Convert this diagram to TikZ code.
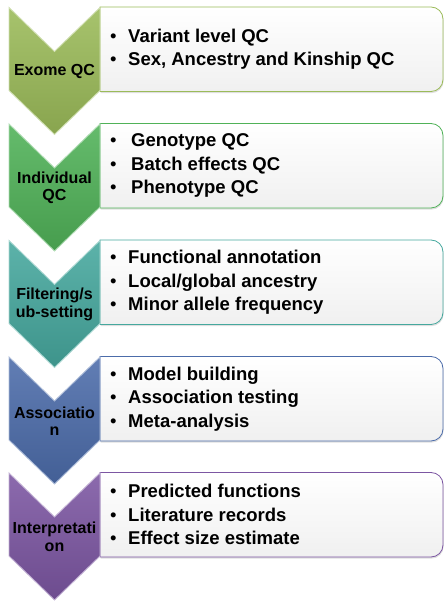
\documentclass[tikz,border=0pt]{standalone}
\usepackage{fontspec}
\setmainfont{Liberation Sans}
\usepackage{tikz}
\usetikzlibrary{shadows}

\definecolor{exomegreen}{RGB}{155,187,89}
\definecolor{indivgreen}{RGB}{80,178,88}
\definecolor{filterteal}{RGB}{70,168,158}
\definecolor{assocblue}{RGB}{76,108,170}
\definecolor{interppurple}{RGB}{124,86,162}
\definecolor{panelgray}{RGB}{240,240,240}

\newcommand{\bul}[1][18pt]{\makebox[#1][l]{\mdseries\textbullet}}

\begin{document}
\begin{tikzpicture}[x=1pt, y=1pt,
    chev/.style={top color=#1!88!white, bottom color=#1!88!black, draw=#1!45!white, line width=0.9pt, line join=miter},
    panel/.style={draw=#1, line width=0.8pt, top color=white, bottom color=panelgray,
        drop shadow={shadow xshift=0.6pt, shadow yshift=-1.6pt, opacity=0.25}},
    chevlabel/.style={align=center, font=\fontsize{16}{17.5}\selectfont\bfseries, inner sep=0pt},
    itemtext/.style={anchor=west, align=left, font=\fontsize{18.5}{23.5}\selectfont\bfseries, inner sep=0pt}]

    \useasboundingbox (0,0) rectangle (445,602);

    % Exome QC
    \draw[panel=exomegreen] (100,510.5) -- (100,595) -- (431,595) arc[start angle=90, end angle=0, radius=12]
        -- (443,522.5) arc[start angle=0, end angle=-90, radius=12] -- cycle;
    \draw[chev=exomegreen] (9,594.5) -- (54.5,550.5) -- (100,594.5) -- (100,511.5) -- (54.5,467.5) -- (9,511.5) -- cycle;
    \node[chevlabel] (exome) at (54.5,530.5) {Exome QC};
    \node[itemtext] (exomeitems) at (110,552.75) {\bul Variant level QC\\ \bul Sex, Ancestry and Kinship QC};

    % Individual QC
    \draw[panel=indivgreen] (100,394) -- (100,478.5) -- (431,478.5) arc[start angle=90, end angle=0, radius=12]
        -- (443,406) arc[start angle=0, end angle=-90, radius=12] -- cycle;
    \draw[chev=indivgreen] (9,478) -- (54.5,434) -- (100,478) -- (100,395) -- (54.5,351) -- (9,395) -- cycle;
    \node[chevlabel] (indiv) at (54.5,414) {Individual\\QC};
    \node[itemtext] (indivitems) at (110,436.25) {\bul[21pt]Genotype QC\\ \bul[21pt]Batch effects QC\\ \bul[21pt]Phenotype QC};

    % Filtering/sub-setting
    \draw[panel=filterteal] (100,277.5) -- (100,362) -- (431,362) arc[start angle=90, end angle=0, radius=12]
        -- (443,289.5) arc[start angle=0, end angle=-90, radius=12] -- cycle;
    \draw[chev=filterteal] (9,361.5) -- (54.5,317.5) -- (100,361.5) -- (100,278.5) -- (54.5,234.5) -- (9,278.5) -- cycle;
    \node[chevlabel] (filter) at (54.5,297.5) {Filtering/s\\ub-setting};
    \node[itemtext] (filteritems) at (110,319.75) {\bul Functional annotation\\ \bul Local/global ancestry\\ \bul Minor allele frequency};

    % Association
    \draw[panel=assocblue] (100,161) -- (100,245.5) -- (431,245.5) arc[start angle=90, end angle=0, radius=12]
        -- (443,173) arc[start angle=0, end angle=-90, radius=12] -- cycle;
    \draw[chev=assocblue] (9,245) -- (54.5,201) -- (100,245) -- (100,162) -- (54.5,118) -- (9,162) -- cycle;
    \node[chevlabel] (assoc) at (54.5,181) {Associatio\\n};
    \node[itemtext] (associtems) at (110,203.25) {\bul Model building\\ \bul Association testing\\ \bul Meta-analysis};

    % Interpretation
    \draw[panel=interppurple] (100,45) -- (100,129.5) -- (431,129.5) arc[start angle=90, end angle=0, radius=12]
        -- (443,57) arc[start angle=0, end angle=-90, radius=12] -- cycle;
    \draw[chev=interppurple] (9,129) -- (54.5,85) -- (100,129) -- (100,46) -- (54.5,2) -- (9,46) -- cycle;
    \node[chevlabel] (interp) at (54.5,65) {Interpretati\\on};
    \node[itemtext] (interpitems) at (110,87.25) {\bul Predicted functions\\ \bul Literature records\\ \bul Effect size estimate};
\end{tikzpicture}
\end{document}
